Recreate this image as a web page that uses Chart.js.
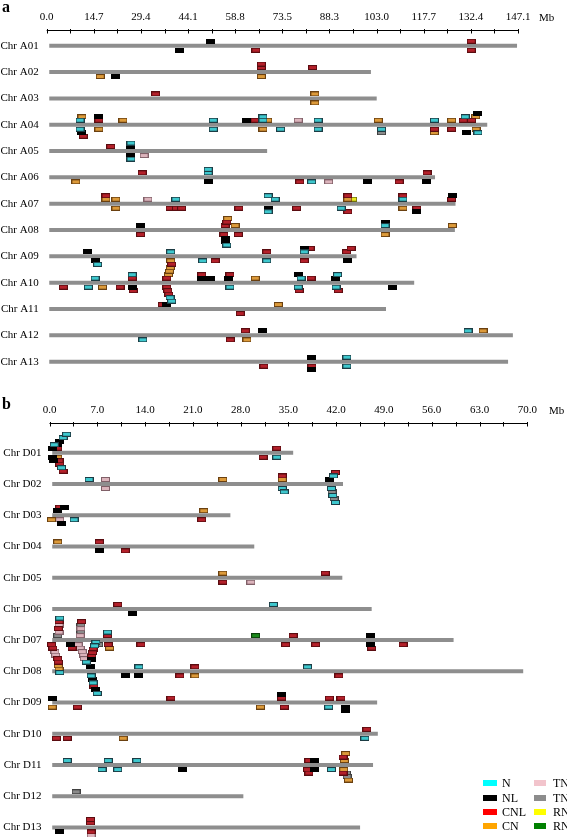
<!DOCTYPE html>
<html><head><meta charset="utf-8">
<script src="https://cdn.jsdelivr.net/npm/chart.js@4.4.1/dist/chart.umd.min.js"></script>
<style>
body{margin:0;background:#fff;width:567px;height:837px;overflow:hidden;position:relative;font-family:"Liberation Serif","Times New Roman",serif;color:#000}
canvas{position:absolute;left:0}
#ca{top:0}
#cb{top:395px}
.t{position:absolute;font-size:11px;line-height:11px;white-space:nowrap}
.p{position:absolute;font-weight:bold;font-size:16px;line-height:16px}
.sw{position:absolute;width:14px;height:6px}
.lt{position:absolute;font-size:12px;line-height:12px;white-space:nowrap}
</style></head>
<body>
<canvas id="ca" width="567" height="405"></canvas>
<canvas id="cb" width="567" height="455"></canvas>
<div class="p" style="left:2px;top:-1px">a</div>
<div class="p" style="left:2px;top:396px">b</div>
<div class="t" style="left:539px;top:11.5px">Mb</div>
<div class="t" style="left:549px;top:404.5px">Mb</div>
<div id="legend"></div>
<script>
// ---------- axis / chromosome data ----------
const chrA = ['Chr A01','Chr A02','Chr A03','Chr A04','Chr A05','Chr A06','Chr A07','Chr A08','Chr A09','Chr A10','Chr A11','Chr A12','Chr A13'];
const lenA = [146.8,101.2,103.0,137.5,68.8,121.2,127.6,127.4,96.7,114.7,105.9,145.5,144.0];
const ticksA = ['0.0','14.7','29.4','44.1','58.8','73.5','88.3','103.0','117.7','132.4','147.1'];
const maxA = 147.1;

const chrD = ['Chr D01','Chr D02','Chr D03','Chr D04','Chr D05','Chr D06','Chr D07','Chr D08','Chr D09','Chr D10','Chr D11','Chr D12','Chr D13'];
const lenD = [35.7,43.0,26.5,30.0,42.9,47.2,59.2,69.4,48.0,48.1,47.4,28.4,45.5];
const ticksD = ['0.0','7.0','14.0','21.0','28.0','35.0','42.0','49.0','56.0','63.0','70.0'];
const maxD = 70.0;

// ---------- gene markers: [chromosome index, position Mb, stack level (+ above / - below)] ----------
const A_N = [[3,10.4,1],[3,10.4,-1],[3,52,1],[3,52,-1],[3,67.5,1],[3,67.5,2],[3,73,-1],[3,84.7,1],[3,84.7,-1],[3,104.5,-1],[3,121,1],[3,130.6,2],[3,134.6,-2],
  [4,26.3,2],[4,26.3,-2],[5,50.4,1],[5,50.4,2],[5,82.7,-1],
  [6,40.3,1],[6,69.1,2],[6,71.3,1],[6,69.1,-2],[6,91.9,-1],[6,111.2,1],
  [7,56.2,-4],[7,105.6,1],
  [8,15.9,-2],[8,38.7,1],[8,48.7,-1],[8,68.7,-1],[8,80.4,1],
  [9,15.1,1],[9,13,-1],[9,26.7,2],[9,38.5,-4],[9,39,-5],[9,57.2,-1],[9,78.5,-1],[9,79.4,1],[9,90.8,2],[9,90.3,-1],
  [11,30,-1],[11,131.5,1],[12,93.7,1],[12,93.7,-1]];
const A_NL = [[0,51,1],[0,41.6,-1],[1,21.6,-1],[3,11,-2],[3,16.3,2],[3,62.5,1],[3,131,-2],[3,134.5,3],
  [4,26.3,1],[4,26.3,-1],[5,50.4,-1],[5,100,-1],[5,118.6,-1],
  [6,69.1,-1],[6,115.5,-2],[6,126.8,2],
  [7,29.3,1],[7,55.7,-2],[7,55.9,-3],[7,105.6,2],
  [8,12.7,1],[8,15.1,-1],[8,80.4,2],[8,94,-1],
  [9,26.7,-1],[9,48.4,1],[9,51.2,1],[9,56.7,1],[9,78.5,2],[9,90,1],[9,108,-1],
  [10,37.5,1],[11,67.5,1],[12,82.8,1],[12,82.8,-2]];
const A_CNL = [[0,65.3,-1],[0,132.5,1],[0,132.5,-1],[1,67,1],[1,67,2],[1,83,1],[2,34,1],
  [3,16.3,1],[3,11.4,-3],[3,65,1],[3,121,-1],[3,126.4,-1],[3,130,1],[3,132.6,1],
  [4,20,1],
  [5,29.8,1],[5,79,-1],[5,110,-1],[5,118.7,1],
  [6,18.5,2],[6,38.5,-1],[6,40.5,-1],[6,42.1,-1],[6,60,-1],[6,78,-1],[6,94,2],[6,94,-2],[6,111.2,2],[6,115.5,-1],[6,126.4,1],
  [7,55.7,1],[7,56.2,2],[7,55.3,-1],[7,59.8,-1],[7,29.3,-1],
  [8,52.6,-1],[8,68.7,1],[8,82.2,2],[8,80.4,-1],[8,93.6,1],[8,95,2],
  [9,5.2,-1],[9,22.9,-1],[9,26.7,1],[9,27,-2],[9,37.5,1],[9,39,5],[9,37.5,-1],[9,37.8,-2],[9,38.1,-3],[9,48.4,2],[9,57.2,2],[9,78.8,-2],[9,82.5,1],[9,91,-2],
  [10,36.1,1],[10,60.4,-1],[11,57.3,-1],[11,62,1],[12,67.8,-1],[12,82.8,-1]];
const A_CN = [[1,16.7,-1],[1,67,-1],[2,83.7,1],[2,83.7,-1],
  [3,11,2],[3,16.3,-1],[3,23.8,1],[3,69,1],[3,67.5,-1],[3,103.5,1],[3,121,-2],[3,126.4,1],[3,133.9,2],[3,134,-1],
  [5,9.1,-1],[6,18.5,1],[6,21.6,1],[6,21.6,-1],[6,94,1],[6,111.2,-1],
  [7,56.5,3],[7,58.8,1],[7,105.6,-1],[7,126.6,1],[8,38.7,-1],
  [9,17.4,-1],[9,38,2],[9,38.3,3],[9,38.6,4],[9,65.1,1],[10,72.3,1],[11,62.5,-1],[11,136.2,1]];
const A_TN = [[3,78.5,1],[4,30.4,-1],[5,88,-1],[6,31.6,1]];
const A_TN2 = [[3,104.5,-2]];
const A_RN = [[6,95.5,1]];
const A_RN2 = [];

const D_N = [[0,0.7,2],[0,2.0,4],[0,2.5,5],[0,1.75,-4],[0,33.3,-1],
  [1,5.8,1],[1,34.1,-1],[1,34.4,-2],[1,41.6,2],[1,41.3,-1],[1,41.5,-3],[1,41.9,-5],
  [2,3.6,-1],[5,32.8,1],
  [6,1.5,6],[6,1.5,-9],[6,5.4,-6],[6,8.5,2],
  [7,6.8,8],[7,6.6,7],[7,6.1,-1],[7,6.4,-3],[7,7,-6],[7,13.1,1],[7,37.8,1],
  [8,40.9,-1],[9,46.2,-1],
  [10,2.6,1],[10,7.7,-1],[10,8.6,1],[10,10,-1],[10,12.8,1],[10,41.3,-1]];
const D_NL = [[0,0.44,1],[0,0.44,-1],[0,0.6,-2],[0,1.2,2],[0,1.5,3],[1,41,1],
  [2,1.2,1],[2,2.2,2],[2,1.8,-2],[3,7.3,-1],[5,12.1,-1],
  [6,3.1,-1],[6,47.1,1],[6,47.1,-1],
  [7,6,1],[7,6.1,3],[7,6.3,-2],[7,6.7,-5],[7,11.2,-1],[7,13.1,-1],
  [8,0.4,1],[8,34,2],[8,43.3,-1],[8,43.4,-2],
  [10,19.5,-1],[10,38.8,1],[10,38.8,-1],[12,1.5,-1]];
const D_CNL = [[0,1.2,1],[0,1.4,-2],[0,1.5,-3],[0,2.0,-5],[0,33.3,1],[0,31.3,-1],
  [1,34.1,2],[1,41.9,3],[2,1.5,2],[2,22.3,-1],[3,7.3,1],[3,11.1,-1],[4,25.4,-1],[4,40.4,1],[5,10,1],
  [6,0.3,-1],[6,0.5,-2],[6,1.2,-5],[6,1.3,-6],[6,3.3,-2],[6,8.6,-1],[6,13.4,-1],[6,1.3,3],[6,1.4,5],[6,4.7,5],[6,8.5,1],[6,34.6,-1],[6,35.7,1],[6,39,-1],[6,47.2,-2],[6,51.8,-1],
  [7,6.4,6],[7,6.3,5],[7,6.2,4],[7,6.5,-4],[7,19.1,-1],[7,21.3,1],[7,42.4,-1],
  [8,4.1,-1],[8,17.8,1],[8,34,1],[8,34.4,-1],[8,41,1],[8,42.7,1],
  [9,1,-1],[9,2.6,-1],[9,46.5,1],
  [10,38,1],[10,37.8,-1],[10,38,-2],[10,43,2],[10,43,-2],
  [12,6,1],[12,6,2],[12,6.1,-1]];
const D_CN = [[0,1.2,-1],[1,25.4,1],[1,34.1,1],[2,0.3,-1],[2,22.6,1],[3,1.2,1],[4,25.4,1],
  [6,1.3,-7],[6,1.4,-8],[6,8.8,-2],[7,21.3,-1],[8,0.4,-1],[8,30.9,-1],[9,10.8,-1],
  [10,43.2,1],[10,43.4,3],[10,43.1,-1],[10,43.8,-4]];
const D_TN = [[1,8.2,1],[1,8.2,-1],[2,1.5,-1],[4,29.5,-1],
  [6,0.8,-3],[6,0.9,-4],[6,4.2,-1],[6,4.5,-2],[6,4.8,-3],[6,5,-4],[6,5.1,-5],[6,1.4,2],[6,1.4,4],[6,4.5,1],[6,4.6,3],[12,6.1,-2]];
const D_TN2 = [[1,41.4,-2],[1,41.7,-4],[6,7.2,-1],[6,1.2,1],[6,4.6,2],[6,4.6,4],[10,43.5,-2],[10,43.6,-3],[11,3.9,1]];
const D_RN = [];
const D_RN2 = [[6,30.2,1]];

// ---------- legend ----------
const legendNames = ['N','NL','CNL','CN','TN','TN','RN','RN'];
const legendColors = ['#00ffff','#000000','#ff0000','#ffa500','#f2c4cc','#8c8c8c','#ffff00','#008000'];
const markerFill = ['#3ec8ce','#000000','#b4202a','#dc9a3a','#dcb4bc','#8a8a8a','#eaea20','#1a8a1a'];
const markerStroke = ['#1c3c44','#000000','#5a0c10','#6a4010','#806068','#404040','#707010','#0a400a'];

(function(){
  const L = document.getElementById('legend');
  const rowsY = [782.7,798,812,826];
  legendNames.forEach((n,i)=>{
    const col = i<4?0:1, r = i%4;
    const sx = col===0?483:534, tx = col===0?502:553;
    const s = document.createElement('div'); s.className='sw';
    s.style.left=sx+'px'; s.style.top=(rowsY[r]-3)+'px'; s.style.background=legendColors[i];
    if(col===1){s.style.width='12px';}
    L.appendChild(s);
    const t = document.createElement('div'); t.className='lt';
    t.style.left=tx+'px'; t.style.top=(rowsY[r]-6)+'px'; t.textContent=n;
    L.appendChild(t);
  });
})();

function makeMarker(fill, stroke){
  const c=document.createElement('canvas'); c.width=9; c.height=5;
  const g=c.getContext('2d'); g.fillStyle=stroke; g.fillRect(0,0,9,5);
  g.fillStyle=fill; g.fillRect(1,1,7,3); return c;
}
const markerImgs = markerFill.map((f,i)=>makeMarker(f, markerStroke[i]));

const axisPlugin = {
  id:'axisline',
  afterDraw(chart){
    const xs = chart.scales.x, ctx = chart.ctx, y0 = Math.round(chart.chartArea.top)+0.5;
    const max = xs.max;
    ctx.save(); ctx.strokeStyle='#000'; ctx.lineWidth=1; ctx.beginPath();
    ctx.moveTo(xs.getPixelForValue(0), y0); ctx.lineTo(xs.getPixelForValue(max), y0);
    for(let i=0;i<=20;i++){ const px=Math.round(xs.getPixelForValue(max*i/20))+0.5; ctx.moveTo(px,y0-1.5); ctx.lineTo(px,y0+3); }
    ctx.stroke(); ctx.restore();
  }
};

function build(id, names, lens, tickLabels, max, groups, o){
  const datasets = [];
  // pixel offset of a stacked marker from its chromosome line, converted to axis units
  const stackPx = l => Math.sign(l)*(4.5+(Math.abs(l)-1)*3.5);
  groups.forEach((g,k)=>{
    datasets.push({type:'scatter', order:0, clip:false, data:g.map(d=>({x:d[1], y:d[0] - stackPx(d[2])/o.ppu})),
      pointStyle:markerImgs[k], pointRadius:4, pointHoverRadius:4});
  });
  names.forEach((n,i)=>{
    datasets.push({type:'line', order:1, data:[{x:o.start,y:i},{x:lens[i],y:i}], borderColor:'#8e8e8e',
      borderWidth:4, pointRadius:0, borderCapStyle:'butt', clip:false});
  });
  const font = {family:'"Liberation Serif", serif', size:11};
  return new Chart(document.getElementById(id), {
    data:{datasets},
    options:{
      responsive:false, animation:false, events:[],
      layout:{padding:{left:0,right:o.padRight,top:0,bottom:0}},
      plugins:{legend:{display:false}, tooltip:{enabled:false}},
      scales:{
        x:{type:'linear', position:'top', min:0, max:max,
          grid:{display:false, drawTicks:false}, border:{display:false},
          afterBuildTicks:s=>{ s.ticks = Array.from({length:21},(_,i)=>({value:max*i/20})); },
          afterFit:s=>{ s.height = o.top; },
          ticks:{autoSkip:false, maxRotation:0, color:'#000', font, padding:6,
            callback:(v,i)=> i%2===0 ? tickLabels[i/2] : ''}},
        y:{type:'linear', reverse:true, min:o.yMin, max:o.yMax,
          grid:{display:false, drawTicks:false}, border:{display:false},
          afterBuildTicks:s=>{ s.ticks = names.map((_,i)=>({value:i})); },
          afterFit:s=>{ s.width = o.left; },
          ticks:{color:'#000', font:{family:'"Liberation Serif", serif', size:11}, padding:8,
            callback:(v)=> names[v]}}
      }
    },
    plugins:[axisPlugin]
  });
}

build('ca', chrA, lenA, ticksA, maxA, [A_N,A_NL,A_CNL,A_CN,A_TN,A_TN2,A_RN,A_RN2],
  {ppu:26.33, top:30, left:46.7, padRight:49, yMin:-0.597, yMax:13.091, start:0.8});
build('cb', chrD, lenD, ticksD, maxD, [D_N,D_NL,D_CNL,D_CN,D_TN,D_TN2,D_RN,D_RN2],
  {ppu:31.23, top:28, left:49.5, padRight:39.7, yMin:-0.952, yMax:12.253, start:0.4});
</script>
</body></html>
